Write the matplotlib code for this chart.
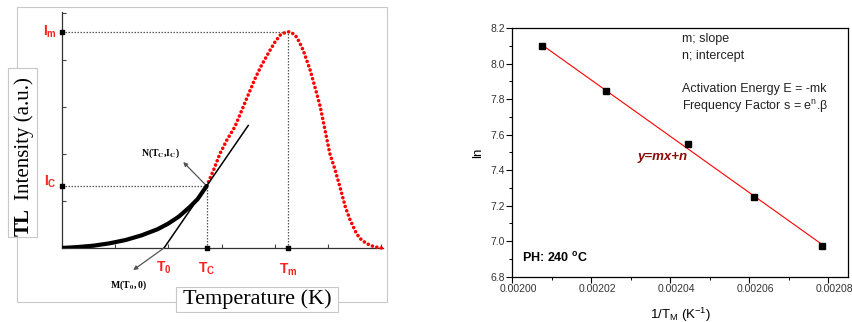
import numpy as np
import matplotlib
matplotlib.use('Agg')
import matplotlib.pyplot as plt
import matplotlib.patches as mpatches
import matplotlib.transforms as mtransforms
from matplotlib.ticker import MultipleLocator

plt.rcParams['font.family'] = 'Liberation Sans'
plt.rcParams['mathtext.fontset'] = 'custom'
plt.rcParams['mathtext.rm'] = 'Liberation Sans'
plt.rcParams['mathtext.it'] = 'Liberation Sans:italic'
plt.rcParams['mathtext.bf'] = 'Liberation Sans:bold'

# ---- left panel: TL glow curve (arbitrary units)
rise_T = [0.0, 0.3, 0.6, 0.9, 1.2, 1.5, 1.8, 2.0, 2.2, 2.4, 2.55, 2.72]
rise_I = [0.0, 0.02, 0.05, 0.10, 0.17, 0.27, 0.40, 0.52, 0.67, 0.87, 1.04, 1.32]

peak_T = [2.72, 2.85, 2.97, 3.10, 3.25, 3.36, 3.47, 3.63, 3.75, 3.91, 4.00,
          4.10, 4.20, 4.25, 4.30, 4.38, 4.45, 4.53, 4.66, 4.75, 4.85, 4.94,
          5.03, 5.13, 5.22, 5.32, 5.41, 5.53, 5.60, 5.70, 5.80, 5.90, 6.00]
peak_I = [1.32, 1.66, 2.01, 2.30, 2.58, 2.88, 3.18, 3.61, 3.89, 4.21, 4.38,
          4.53, 4.59, 4.60, 4.59, 4.53, 4.40, 4.21, 3.79, 3.43, 3.01, 2.51,
          2.01, 1.66, 1.30, 0.88, 0.60, 0.31, 0.20, 0.11, 0.05, 0.02, 0.0]

T0, Tc, Tm = 1.92, 2.72, 4.25
Ic, Im = 1.32, 4.60
tangent_T = [1.92, 3.50]

# ---- right panel: ln vs 1/T_M
inv_TM = [0.0020074, 0.0020237, 0.0020444, 0.0020612, 0.0020785]
ln_vals = [8.10, 7.845, 7.545, 7.246, 6.975]

W, H = 853, 322
fig = plt.figure(figsize=(W / 100, H / 100), dpi=100)
fig.patch.set_facecolor('white')


def fx(x):
    return x / W


def fy(y):
    return 1 - y / H


LGRAY = '#c8c8c8'
DOT = '#555555'
RED = '#ff0000'

# light frame around the left figure
fig.patches.append(mpatches.Rectangle((fx(17), fy(302)), fx(387) - fx(17), fy(7) - fy(302),
                                      transform=fig.transFigure, fill=False,
                                      edgecolor=LGRAY, linewidth=0.8, zorder=0))

ax1 = fig.add_axes([fx(61.7), fy(248), 6.03 * 53.3 / W, 5.02 * 47 / H])
ax1.set_xlim(0, 6.03)
ax1.set_ylim(0, 5.02)
ax1.spines['top'].set_visible(False)
ax1.spines['right'].set_visible(False)
for s in ['left', 'bottom']:
    ax1.spines[s].set_color('#333333')
    ax1.spines[s].set_linewidth(0.9)
ax1.xaxis.set_major_locator(MultipleLocator(1))
ax1.yaxis.set_major_locator(MultipleLocator(1))
ax1.tick_params(direction='in', length=3, width=0.8, color='#444444',
                labelbottom=False, labelleft=False)
ax1.patch.set_alpha(0)

# guide lines
ax1.plot([0, Tm], [Im, Im], ls=(0, (1.2, 1.2)), color=DOT, lw=0.9)
ax1.plot([Tm, Tm], [0, Im], ls=(0, (1.2, 1.2)), color=DOT, lw=0.9)
ax1.plot([0, Tc], [Ic, Ic], ls=(0, (1.2, 1.2)), color=DOT, lw=0.9)
ax1.plot([Tc, Tc], [0, Ic], ls=(0, (1.2, 1.2)), color=DOT, lw=0.9)

ax1.plot(peak_T, peak_I, color=RED, lw=2.6, ls=(0, (0.01, 1.25)),
         dash_capstyle='round', clip_on=False, zorder=3)
ax1.plot(rise_T, rise_I, color='black', lw=3.0, solid_capstyle='round',
         solid_joinstyle='round', zorder=4)

slope = (Ic - 0) / (Tc - T0)
tang_I = [slope * (t - T0) for t in tangent_T]
ax1.plot(tangent_T, tang_I, color='black', lw=1.1, zorder=5)

# axis markers
ax1.scatter([0, 0], [Im, Ic], marker='s', s=10, color='black', clip_on=False, zorder=6)
ax1.scatter([Tc, Tm], [0, 0], marker='s', s=10, color='black', clip_on=False, zorder=6)

# arrows to labels
ax1.annotate('', xy=(2.28, 1.83), xytext=(Tc, Ic),
             arrowprops=dict(arrowstyle='-|>', color='#555555', lw=0.9,
                             mutation_scale=6, shrinkA=0, shrinkB=0))
ax1.annotate('', xy=(1.34, -0.47), xytext=(T0, 0),
             arrowprops=dict(arrowstyle='-|>', color='#555555', lw=0.9,
                             mutation_scale=6, shrinkA=0, shrinkB=0),
             annotation_clip=False)

ax1.text(1.85, 2.02, r'N(T$_\mathbf{C}$,I$_\mathbf{C}$)', family='Liberation Serif',
         fontweight='bold', fontsize=7, ha='center', va='center', math_fontfamily='stix')
ax1.text(1.25, -0.80, r'M(T$_\mathbf{0}$, 0)', family='Liberation Serif',
         fontweight='bold', fontsize=7, ha='center', va='center', math_fontfamily='stix',
         clip_on=False)

lab_kw = dict(color='#ff2020', fontweight='bold', fontsize=10, ha='center', va='center',
              clip_on=False)
ax1.text(-0.22, Im, r'I$_\mathbf{m}$', **lab_kw)
ax1.text(-0.22, Ic + 0.08, r'I$_\mathbf{C}$', **lab_kw)
ax1.text(T0, -0.42, r'T$_\mathbf{0}$', **lab_kw)
ax1.text(Tc, -0.44, r'T$_\mathbf{C}$', **lab_kw)
ax1.text(Tm, -0.47, r'T$_\mathbf{m}$', **lab_kw)

# y label box
fig.patches.append(mpatches.Rectangle((fx(8), fy(237)), fx(37) - fx(8), fy(68) - fy(237),
                                      transform=fig.transFigure, facecolor='white',
                                      edgecolor=LGRAY, linewidth=0.8, zorder=1))
fig.text(fx(24), fy(222), 'TL', rotation=90, family='Liberation Serif', fontweight='bold',
         fontsize=15, ha='center', va='center', zorder=2)
fig.text(fx(24), fy(139), 'Intensity (a.u.)', rotation=90, family='Liberation Serif',
         fontsize=15, ha='center', va='center', zorder=2)

# x label box
fig.patches.append(mpatches.Rectangle((fx(176), fy(312)), fx(338) - fx(176), fy(287) - fy(312),
                                      transform=fig.transFigure, facecolor='white',
                                      edgecolor=LGRAY, linewidth=0.8, zorder=1))
fig.text(fx(257), fy(299), 'Temperature (K)', family='Liberation Serif', fontsize=16,
         ha='center', va='center', zorder=2)

# ---- right panel
ax2 = fig.add_axes([fx(512.3), fy(276.7), (848 - 512.3) / W, (276.7 - 28) / H])
ax2.set_xlim(0.00200, 0.002085)
ax2.set_ylim(6.8, 8.2)
ax2.xaxis.set_minor_locator(MultipleLocator(0.00001))
ax2.yaxis.set_major_locator(MultipleLocator(0.2))
ax2.yaxis.set_minor_locator(MultipleLocator(0.1))
ax2.set_xticks([0.00200, 0.00202, 0.00204, 0.00206, 0.00208])
ax2.set_xticklabels(['0.00200', '0.00202', '0.00204', '0.00206', '0.00208'])
ax2.yaxis.set_major_formatter(matplotlib.ticker.FormatStrFormatter('%.1f'))
ax2.tick_params(which='major', direction='out', length=4, width=0.8, labelsize=7.5,
                labelcolor='#333333', pad=1.5)
ax2.tick_params(which='minor', direction='out', length=2, width=0.7)
for s in ax2.spines.values():
    s.set_linewidth(0.9)
shift = mtransforms.ScaledTranslation(0.065, 0, fig.dpi_scale_trans)
for lbl in ax2.get_xticklabels():
    lbl.set_transform(lbl.get_transform() + shift)
    lbl.set_clip_on(False)

m, n = np.polyfit(inv_TM, ln_vals, 1)
fit_x = np.array([inv_TM[0], inv_TM[-1]])
ax2.plot(fit_x, m * fit_x + n, color=RED, lw=0.8, zorder=2)
ax2.plot(inv_TM, ln_vals, 's', color='black', markersize=4.5, zorder=3)

ax2.set_xlabel(r'1/T$_\mathrm{M}$ (K$^\mathrm{-1}$)', fontsize=9.5, labelpad=8)
ax2.set_ylabel('ln', fontsize=9.5, labelpad=4)

tk = dict(transform=ax2.transAxes, fontsize=9, ha='left', va='center', color='#222222')
ax2.text(0.5055, 0.957, 'm; slope', **tk)
ax2.text(0.5055, 0.889, 'n; intercept', **tk)
ax2.text(0.5055, 0.756, 'Activation Energy E = -mk', **tk)
ax2.text(0.5055, 0.684, r'Frequency Factor s = e$^\mathrm{n}$.β', **tk)
ax2.text(0.449, 0.4825, 'y=mx+n', transform=ax2.transAxes, fontsize=9.5, fontweight='bold',
         fontstyle='italic', color='#8b0a0a', ha='center', va='center')
ax2.text(0.028, 0.074, r'PH: 240 $^\mathbf{o}$C', transform=ax2.transAxes, fontsize=9,
         fontweight='bold', ha='left', va='center')

fig.savefig('out.png', dpi=100, facecolor='white')
